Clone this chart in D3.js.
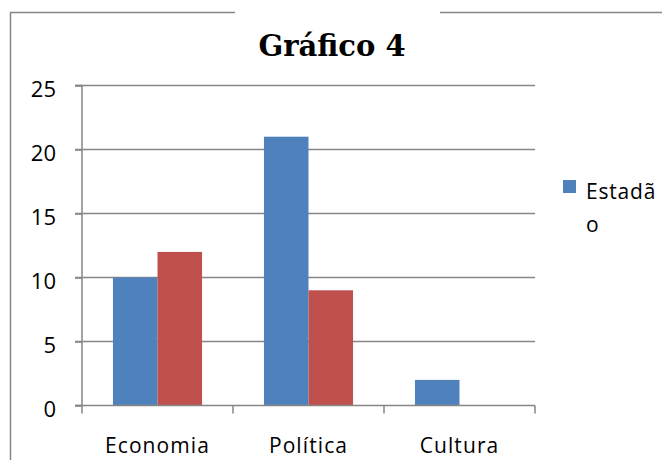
<!DOCTYPE html>
<html>
<head>
<meta charset="utf-8">
<script src="https://cdn.jsdelivr.net/npm/d3@7.9.0/dist/d3.min.js"></script>
<style>
  body { margin: 0; background: #fff; }
  svg { display: block; }
</style>
</head>
<body>
<div id="chart"></div>
<script>
// chart data
const categories = ["Economia", "Política", "Cultura"];
const seriesNames = ["Estadão", "Série 2"];
const estadaoValues = [10, 21, 2];
const serie2Values = [12, 9, 0];
const yTicks = [0, 5, 10, 15, 20, 25];
const colors = ["#4f81bd", "#c0504d"];

const W = 662, H = 460;
const margin = { top: 85.5, right: 127, bottom: 54.5, left: 82 };
const width = W - margin.left - margin.right;
const height = H - margin.top - margin.bottom;
const gridColor = "#868686";
const labelFont = "'Open Sans', 'Liberation Sans', sans-serif";

const svg = d3.select("#chart").append("svg")
    .attr("width", W)
    .attr("height", H);

// outer frame (top line broken by the title, left edge)
svg.append("path")
    .attr("d", `M235,12.5 H10.5 V${H}`)
    .attr("fill", "none")
    .attr("stroke", gridColor)
    .attr("stroke-width", 1.5);
svg.append("line")
    .attr("x1", 440).attr("x2", W)
    .attr("y1", 12.5).attr("y2", 12.5)
    .attr("stroke", gridColor)
    .attr("stroke-width", 1.5);

// title
svg.append("text")
    .attr("x", 332)
    .attr("y", 56)
    .attr("text-anchor", "middle")
    .style("font-family", "'DejaVu Serif', 'Liberation Serif', serif")
    .style("font-weight", "bold")
    .style("font-size", "29px")
    .text("Gráfico 4");

const g = svg.append("g")
    .attr("transform", `translate(${margin.left},${margin.top})`);

const x = d3.scaleBand()
    .domain(categories)
    .range([0, width]);

const y = d3.scaleLinear()
    .domain([0, 25])
    .range([height, 0]);

// gridlines
g.selectAll(".grid")
    .data(yTicks.filter(d => d > 0))
    .join("line")
    .attr("class", "grid")
    .attr("x1", -7).attr("x2", width)
    .attr("y1", d => y(d)).attr("y2", d => y(d))
    .attr("stroke", gridColor)
    .attr("stroke-width", 1.5);

// bars
const inner = d3.scaleBand()
    .domain(seriesNames)
    .range([x.bandwidth() * 0.205, x.bandwidth() * 0.795]);

const seriesData = [estadaoValues, serie2Values];
seriesNames.forEach((name, si) => {
    g.selectAll(`.bar-${si}`)
        .data(categories.map((c, i) => ({ cat: c, value: seriesData[si][i] })))
        .join("rect")
        .attr("class", `bar-${si}`)
        .attr("x", d => x(d.cat) + inner(name))
        .attr("y", d => y(d.value))
        .attr("width", inner.bandwidth())
        .attr("height", d => height - y(d.value))
        .attr("fill", colors[si]);
});

// y axis
const yAxis = g.append("g")
    .call(d3.axisLeft(y).tickValues(yTicks).tickSize(7).tickPadding(19));
yAxis.select(".domain").attr("stroke", gridColor).attr("stroke-width", 1.5)
    .attr("d", `M-7,${height}H0V0H-7`);
yAxis.selectAll(".tick line").attr("stroke", gridColor).attr("stroke-width", 1.5);
yAxis.selectAll(".tick text")
    .style("font-family", labelFont)
    .style("font-size", "22px")
    .attr("dy", "0.5em")
    .attr("fill", "#000");

// x axis
const xAxis = g.append("g")
    .attr("transform", `translate(0,${height})`)
    .call(d3.axisBottom(x).tickSize(0));
xAxis.select(".domain").remove();
xAxis.append("line")
    .attr("x1", -7).attr("x2", width)
    .attr("stroke", gridColor).attr("stroke-width", 1.5);
xAxis.selectAll(".sep")
    .data(d3.range(categories.length + 1))
    .join("line")
    .attr("class", "sep")
    .attr("x1", i => i * x.step()).attr("x2", i => i * x.step())
    .attr("y1", 0).attr("y2", 8)
    .attr("stroke", gridColor).attr("stroke-width", 1.5);
xAxis.selectAll(".tick text")
    .style("font-family", labelFont)
    .style("font-size", "21px")
    .style("letter-spacing", "1.1px")
    .attr("y", 47.5)
    .attr("dy", 0)
    .attr("fill", "#000");

// legend (only first series visible, wrapped)
const legend = svg.append("g")
    .attr("transform", "translate(563,180)");
legend.append("rect")
    .attr("width", 13).attr("height", 13)
    .attr("fill", colors[0]);
legend.append("text")
    .attr("x", 23).attr("y", 19)
    .style("font-family", labelFont)
    .style("font-size", "21px")
    .style("letter-spacing", "0.8px")
    .text(seriesNames[0].slice(0, 6));
legend.append("text")
    .attr("x", 23).attr("y", 52)
    .style("font-family", labelFont)
    .style("font-size", "21px")
    .text(seriesNames[0].slice(6));
</script>
</body>
</html>
